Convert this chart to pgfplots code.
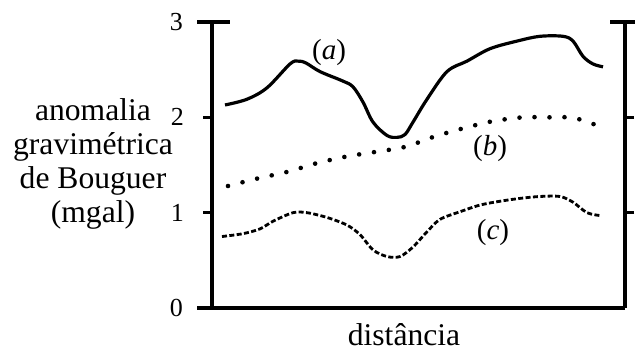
\documentclass[border=0pt]{standalone}
\usepackage{fontspec}
\setmainfont{Liberation Serif}
\usepackage{pgfplots}
\pgfplotsset{compat=1.18}
\begin{document}
\begin{tikzpicture}
\begin{axis}[
 scale only axis, width=206.5pt, height=143pt,
 xmin=212, xmax=625, ymin=0, ymax=3,
 axis x line=bottom, axis y line=box,
 axis line style={-, line width=1.7pt},
 xtick=\empty,
 ytick={1,2}, extra y ticks={0,3}, extra y tick style={major tick length=0pt},
 tick align=outside, major tick length=4.5pt,
 tick style={line width=1.6pt, black},
 yticklabel pos=left,
 yticklabel style={font=\fontsize{13}{15}\selectfont, anchor=east, xshift=-6pt},
 extra y tick style={yticklabel style={font=\fontsize{13}{15}\selectfont, anchor=east, xshift=-5pt}},
 /pgf/number format/assume math mode=true,
 clip=false,
]
\addplot[black, line width=1.6pt, smooth, tension=0.55] coordinates {
(225,2.13) (247,2.19) (267,2.31) (290,2.56) (298,2.59) (306,2.57) (320,2.48) (343,2.38) (353,2.32) (363,2.16) (373,1.95) (387,1.81) (397,1.79) (405,1.82) (413,1.95) (427,2.19) (447,2.48) (467,2.59) (490,2.72) (517,2.80) (540,2.85) (563,2.85) (573,2.80) (583,2.64) (593,2.56) (603,2.53)};
\addplot[black, line width=2.3pt, line cap=round, dash pattern=on 0pt off 7.5pt, smooth] coordinates {
(228,1.28) (258,1.36) (288,1.43) (317,1.52) (347,1.59) (377,1.64) (405,1.69) (435,1.80) (465,1.89) (493,1.96) (523,2.00) (553,2.00) (568,2.00) (583,1.97) (598,1.91)};
\addplot[black, line width=1.4pt, dash pattern=on 2.5pt off 1.2pt, smooth, tension=0.5] coordinates {
(222,0.75) (243,0.78) (260,0.83) (273,0.91) (293,1.00) (307,1.00) (327,0.95) (347,0.87) (360,0.77) (373,0.61) (387,0.54) (400,0.54) (413,0.64) (427,0.80) (440,0.93) (460,1.01) (480,1.08) (500,1.12) (520,1.15) (540,1.17) (560,1.17) (573,1.11) (587,1.00) (600,0.97)};
\draw[line width=1.7pt] (axis cs:197,0) -- (axis cs:212,0);
\draw[line width=1.7pt] (axis cs:197,3) -- (axis cs:230,3);
\draw[line width=1.7pt] (axis cs:610,3) -- (axis cs:635,3);
\node[font=\fontsize{14.5}{17}\selectfont] at (axis cs:329,2.685) {(\textit{a})};
\node[font=\fontsize{14.5}{17}\selectfont] at (axis cs:490,1.678) {(\textit{b})};
\node[font=\fontsize{14.5}{17}\selectfont] at (axis cs:493,0.797) {(\textit{c})};
\node[font=\fontsize{15.8}{17}\selectfont] at (axis cs:404,-0.283) {distância};
\node[font=\fontsize{15.8}{17}\selectfont, align=center] at (axis cs:93,1.51) {anomalia\\gravimétrica\\de Bouguer\\(mgal)};
\coordinate (BL) at (axis cs:0,-0.451);
\coordinate (TR) at (axis cs:635,3.231);
\end{axis}
\pgfresetboundingbox
\path[use as bounding box] (BL) rectangle (TR);
\end{tikzpicture}
\end{document}
